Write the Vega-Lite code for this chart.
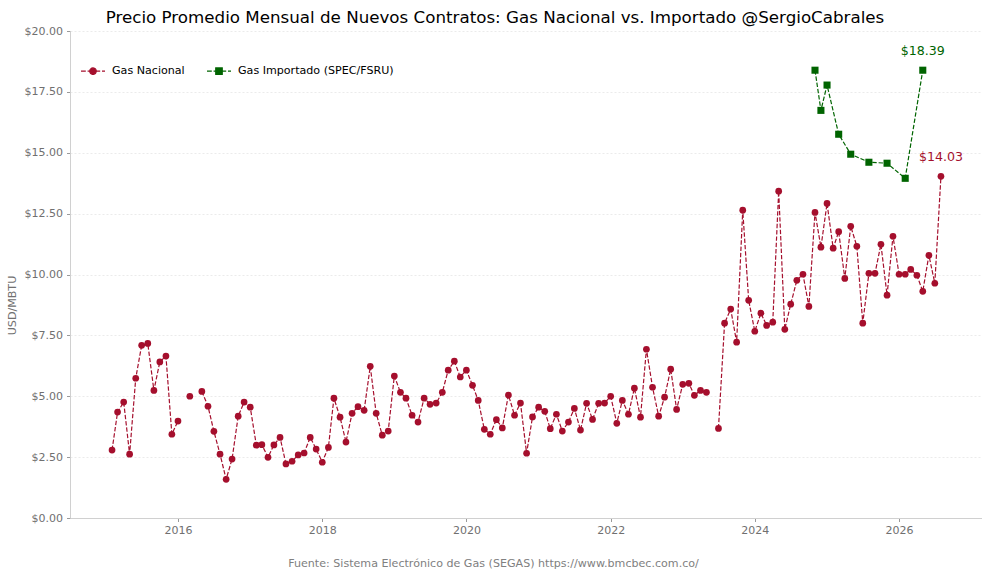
{
  "$schema": "https://vega.github.io/schema/vega-lite/v6.json",
  "width": 912,
  "height": 487,
  "autosize": {"type": "none"},
  "padding": {"left": 70, "top": 31, "right": 0, "bottom": 57},
  "background": "white",
  "title": {
    "text": "Precio Promedio Mensual de Nuevos Contratos: Gas Nacional vs. Importado @SergioCabrales",
    "anchor": "middle",
    "dx": -31,
    "dy": 6,
    "offset": 4,
    "fontSize": 16.7,
    "fontWeight": "normal",
    "color": "#000000"
  },
  "data": {
    "values": [
      {"fecha": "2015-02-01", "serie": "Gas Nacional", "precio": 2.79},
      {"fecha": "2015-03-01", "serie": "Gas Nacional", "precio": 4.35},
      {"fecha": "2015-04-01", "serie": "Gas Nacional", "precio": 4.76},
      {"fecha": "2015-05-01", "serie": "Gas Nacional", "precio": 2.62},
      {"fecha": "2015-06-01", "serie": "Gas Nacional", "precio": 5.74},
      {"fecha": "2015-07-01", "serie": "Gas Nacional", "precio": 7.09},
      {"fecha": "2015-08-01", "serie": "Gas Nacional", "precio": 7.17},
      {"fecha": "2015-09-01", "serie": "Gas Nacional", "precio": 5.24},
      {"fecha": "2015-10-01", "serie": "Gas Nacional", "precio": 6.41},
      {"fecha": "2015-11-01", "serie": "Gas Nacional", "precio": 6.65},
      {"fecha": "2015-12-01", "serie": "Gas Nacional", "precio": 3.44},
      {"fecha": "2016-01-01", "serie": "Gas Nacional", "precio": 3.98},
      {"fecha": "2016-02-01", "serie": "Gas Nacional", "precio": null},
      {"fecha": "2016-03-01", "serie": "Gas Nacional", "precio": 5.00},
      {"fecha": "2016-04-01", "serie": "Gas Nacional", "precio": null},
      {"fecha": "2016-05-01", "serie": "Gas Nacional", "precio": 5.20},
      {"fecha": "2016-06-01", "serie": "Gas Nacional", "precio": 4.59},
      {"fecha": "2016-07-01", "serie": "Gas Nacional", "precio": 3.56},
      {"fecha": "2016-08-01", "serie": "Gas Nacional", "precio": 2.62},
      {"fecha": "2016-09-01", "serie": "Gas Nacional", "precio": 1.59},
      {"fecha": "2016-10-01", "serie": "Gas Nacional", "precio": 2.42},
      {"fecha": "2016-11-01", "serie": "Gas Nacional", "precio": 4.18},
      {"fecha": "2016-12-01", "serie": "Gas Nacional", "precio": 4.76},
      {"fecha": "2017-01-01", "serie": "Gas Nacional", "precio": 4.55},
      {"fecha": "2017-02-01", "serie": "Gas Nacional", "precio": 2.99},
      {"fecha": "2017-03-01", "serie": "Gas Nacional", "precio": 3.01},
      {"fecha": "2017-04-01", "serie": "Gas Nacional", "precio": 2.49},
      {"fecha": "2017-05-01", "serie": "Gas Nacional", "precio": 3.00},
      {"fecha": "2017-06-01", "serie": "Gas Nacional", "precio": 3.31},
      {"fecha": "2017-07-01", "serie": "Gas Nacional", "precio": 2.22},
      {"fecha": "2017-08-01", "serie": "Gas Nacional", "precio": 2.33},
      {"fecha": "2017-09-01", "serie": "Gas Nacional", "precio": 2.59},
      {"fecha": "2017-10-01", "serie": "Gas Nacional", "precio": 2.67},
      {"fecha": "2017-11-01", "serie": "Gas Nacional", "precio": 3.31},
      {"fecha": "2017-12-01", "serie": "Gas Nacional", "precio": 2.83},
      {"fecha": "2018-01-01", "serie": "Gas Nacional", "precio": 2.29},
      {"fecha": "2018-02-01", "serie": "Gas Nacional", "precio": 2.90},
      {"fecha": "2018-03-01", "serie": "Gas Nacional", "precio": 4.92},
      {"fecha": "2018-04-01", "serie": "Gas Nacional", "precio": 4.14},
      {"fecha": "2018-05-01", "serie": "Gas Nacional", "precio": 3.12},
      {"fecha": "2018-06-01", "serie": "Gas Nacional", "precio": 4.30},
      {"fecha": "2018-07-01", "serie": "Gas Nacional", "precio": 4.57},
      {"fecha": "2018-08-01", "serie": "Gas Nacional", "precio": 4.42},
      {"fecha": "2018-09-01", "serie": "Gas Nacional", "precio": 6.23},
      {"fecha": "2018-10-01", "serie": "Gas Nacional", "precio": 4.30},
      {"fecha": "2018-11-01", "serie": "Gas Nacional", "precio": 3.40},
      {"fecha": "2018-12-01", "serie": "Gas Nacional", "precio": 3.57},
      {"fecha": "2019-01-01", "serie": "Gas Nacional", "precio": 5.83},
      {"fecha": "2019-02-01", "serie": "Gas Nacional", "precio": 5.16},
      {"fecha": "2019-03-01", "serie": "Gas Nacional", "precio": 4.92},
      {"fecha": "2019-04-01", "serie": "Gas Nacional", "precio": 4.22},
      {"fecha": "2019-05-01", "serie": "Gas Nacional", "precio": 3.94},
      {"fecha": "2019-06-01", "serie": "Gas Nacional", "precio": 4.92},
      {"fecha": "2019-07-01", "serie": "Gas Nacional", "precio": 4.67},
      {"fecha": "2019-08-01", "serie": "Gas Nacional", "precio": 4.72},
      {"fecha": "2019-09-01", "serie": "Gas Nacional", "precio": 5.16},
      {"fecha": "2019-10-01", "serie": "Gas Nacional", "precio": 6.07},
      {"fecha": "2019-11-01", "serie": "Gas Nacional", "precio": 6.44},
      {"fecha": "2019-12-01", "serie": "Gas Nacional", "precio": 5.79},
      {"fecha": "2020-01-01", "serie": "Gas Nacional", "precio": 6.07},
      {"fecha": "2020-02-01", "serie": "Gas Nacional", "precio": 5.45},
      {"fecha": "2020-03-01", "serie": "Gas Nacional", "precio": 4.83},
      {"fecha": "2020-04-01", "serie": "Gas Nacional", "precio": 3.64},
      {"fecha": "2020-05-01", "serie": "Gas Nacional", "precio": 3.44},
      {"fecha": "2020-06-01", "serie": "Gas Nacional", "precio": 4.04},
      {"fecha": "2020-07-01", "serie": "Gas Nacional", "precio": 3.70},
      {"fecha": "2020-08-01", "serie": "Gas Nacional", "precio": 5.05},
      {"fecha": "2020-09-01", "serie": "Gas Nacional", "precio": 4.22},
      {"fecha": "2020-10-01", "serie": "Gas Nacional", "precio": 4.72},
      {"fecha": "2020-11-01", "serie": "Gas Nacional", "precio": 2.66},
      {"fecha": "2020-12-01", "serie": "Gas Nacional", "precio": 4.15},
      {"fecha": "2021-01-01", "serie": "Gas Nacional", "precio": 4.55},
      {"fecha": "2021-02-01", "serie": "Gas Nacional", "precio": 4.38},
      {"fecha": "2021-03-01", "serie": "Gas Nacional", "precio": 3.67},
      {"fecha": "2021-04-01", "serie": "Gas Nacional", "precio": 4.26},
      {"fecha": "2021-05-01", "serie": "Gas Nacional", "precio": 3.57},
      {"fecha": "2021-06-01", "serie": "Gas Nacional", "precio": 3.94},
      {"fecha": "2021-07-01", "serie": "Gas Nacional", "precio": 4.50},
      {"fecha": "2021-08-01", "serie": "Gas Nacional", "precio": 3.61},
      {"fecha": "2021-09-01", "serie": "Gas Nacional", "precio": 4.71},
      {"fecha": "2021-10-01", "serie": "Gas Nacional", "precio": 4.05},
      {"fecha": "2021-11-01", "serie": "Gas Nacional", "precio": 4.71},
      {"fecha": "2021-12-01", "serie": "Gas Nacional", "precio": 4.72},
      {"fecha": "2022-01-01", "serie": "Gas Nacional", "precio": 5.00},
      {"fecha": "2022-02-01", "serie": "Gas Nacional", "precio": 3.89},
      {"fecha": "2022-03-01", "serie": "Gas Nacional", "precio": 4.83},
      {"fecha": "2022-04-01", "serie": "Gas Nacional", "precio": 4.26},
      {"fecha": "2022-05-01", "serie": "Gas Nacional", "precio": 5.33},
      {"fecha": "2022-06-01", "serie": "Gas Nacional", "precio": 4.14},
      {"fecha": "2022-07-01", "serie": "Gas Nacional", "precio": 6.93},
      {"fecha": "2022-08-01", "serie": "Gas Nacional", "precio": 5.37},
      {"fecha": "2022-09-01", "serie": "Gas Nacional", "precio": 4.18},
      {"fecha": "2022-10-01", "serie": "Gas Nacional", "precio": 4.96},
      {"fecha": "2022-11-01", "serie": "Gas Nacional", "precio": 6.11},
      {"fecha": "2022-12-01", "serie": "Gas Nacional", "precio": 4.46},
      {"fecha": "2023-01-01", "serie": "Gas Nacional", "precio": 5.49},
      {"fecha": "2023-02-01", "serie": "Gas Nacional", "precio": 5.53},
      {"fecha": "2023-03-01", "serie": "Gas Nacional", "precio": 5.04},
      {"fecha": "2023-04-01", "serie": "Gas Nacional", "precio": 5.24},
      {"fecha": "2023-05-01", "serie": "Gas Nacional", "precio": 5.16},
      {"fecha": "2023-06-01", "serie": "Gas Nacional", "precio": null},
      {"fecha": "2023-07-01", "serie": "Gas Nacional", "precio": 3.68},
      {"fecha": "2023-08-01", "serie": "Gas Nacional", "precio": 8.00},
      {"fecha": "2023-09-01", "serie": "Gas Nacional", "precio": 8.58},
      {"fecha": "2023-10-01", "serie": "Gas Nacional", "precio": 7.22},
      {"fecha": "2023-11-01", "serie": "Gas Nacional", "precio": 12.64},
      {"fecha": "2023-12-01", "serie": "Gas Nacional", "precio": 8.94},
      {"fecha": "2024-01-01", "serie": "Gas Nacional", "precio": 7.67},
      {"fecha": "2024-02-01", "serie": "Gas Nacional", "precio": 8.41},
      {"fecha": "2024-03-01", "serie": "Gas Nacional", "precio": 7.91},
      {"fecha": "2024-04-01", "serie": "Gas Nacional", "precio": 8.04},
      {"fecha": "2024-05-01", "serie": "Gas Nacional", "precio": 13.42},
      {"fecha": "2024-06-01", "serie": "Gas Nacional", "precio": 7.75},
      {"fecha": "2024-07-01", "serie": "Gas Nacional", "precio": 8.78},
      {"fecha": "2024-08-01", "serie": "Gas Nacional", "precio": 9.76},
      {"fecha": "2024-09-01", "serie": "Gas Nacional", "precio": 10.01},
      {"fecha": "2024-10-01", "serie": "Gas Nacional", "precio": 8.69},
      {"fecha": "2024-11-01", "serie": "Gas Nacional", "precio": 12.55},
      {"fecha": "2024-12-01", "serie": "Gas Nacional", "precio": 11.12},
      {"fecha": "2025-01-01", "serie": "Gas Nacional", "precio": 12.92},
      {"fecha": "2025-02-01", "serie": "Gas Nacional", "precio": 11.08},
      {"fecha": "2025-03-01", "serie": "Gas Nacional", "precio": 11.76},
      {"fecha": "2025-04-01", "serie": "Gas Nacional", "precio": 9.84},
      {"fecha": "2025-05-01", "serie": "Gas Nacional", "precio": 11.98},
      {"fecha": "2025-06-01", "serie": "Gas Nacional", "precio": 11.16},
      {"fecha": "2025-07-01", "serie": "Gas Nacional", "precio": 8.00},
      {"fecha": "2025-08-01", "serie": "Gas Nacional", "precio": 10.05},
      {"fecha": "2025-09-01", "serie": "Gas Nacional", "precio": 10.05},
      {"fecha": "2025-10-01", "serie": "Gas Nacional", "precio": 11.24},
      {"fecha": "2025-11-01", "serie": "Gas Nacional", "precio": 9.15},
      {"fecha": "2025-12-01", "serie": "Gas Nacional", "precio": 11.57},
      {"fecha": "2026-01-01", "serie": "Gas Nacional", "precio": 10.01},
      {"fecha": "2026-02-01", "serie": "Gas Nacional", "precio": 10.01},
      {"fecha": "2026-03-01", "serie": "Gas Nacional", "precio": 10.21},
      {"fecha": "2026-04-01", "serie": "Gas Nacional", "precio": 9.97},
      {"fecha": "2026-05-01", "serie": "Gas Nacional", "precio": 9.31},
      {"fecha": "2026-06-01", "serie": "Gas Nacional", "precio": 10.79},
      {"fecha": "2026-07-01", "serie": "Gas Nacional", "precio": 9.64},
      {"fecha": "2026-08-01", "serie": "Gas Nacional", "precio": 14.03},
      {"fecha": "2024-11-01", "serie": "Gas Importado (SPEC/FSRU)", "precio": 18.39},
      {"fecha": "2024-12-01", "serie": "Gas Importado (SPEC/FSRU)", "precio": 16.74},
      {"fecha": "2025-01-01", "serie": "Gas Importado (SPEC/FSRU)", "precio": 17.78},
      {"fecha": "2025-03-01", "serie": "Gas Importado (SPEC/FSRU)", "precio": 15.76},
      {"fecha": "2025-05-01", "serie": "Gas Importado (SPEC/FSRU)", "precio": 14.94},
      {"fecha": "2025-08-01", "serie": "Gas Importado (SPEC/FSRU)", "precio": 14.61},
      {"fecha": "2025-11-01", "serie": "Gas Importado (SPEC/FSRU)", "precio": 14.57},
      {"fecha": "2026-02-01", "serie": "Gas Importado (SPEC/FSRU)", "precio": 13.95},
      {"fecha": "2026-05-01", "serie": "Gas Importado (SPEC/FSRU)", "precio": 18.39}
    ]
  },
  "encoding": {
    "x": {
      "field": "fecha",
      "type": "temporal",
      "scale": {
        "domain": [
          {"year": 2014, "month": 7, "date": 3},
          {"year": 2027, "month": 2, "date": 25}
        ]
      },
      "axis": {
        "values": [
          {"year": 2016, "month": 1, "date": 1},
          {"year": 2018, "month": 1, "date": 1},
          {"year": 2020, "month": 1, "date": 1},
          {"year": 2022, "month": 1, "date": 1},
          {"year": 2024, "month": 1, "date": 1},
          {"year": 2026, "month": 1, "date": 1}
        ],
        "format": "%Y",
        "grid": false,
        "labelPadding": 3,
        "title": "Fuente: Sistema Electrónico de Gas (SEGAS) https://www.bmcbec.com.co/",
        "titleX": 423,
        "titleY": 45,
        "titleBaseline": "middle",
        "titleFontSize": 11.1,
        "titleColor": "#808080"
      }
    },
    "y": {
      "field": "precio",
      "type": "quantitative",
      "scale": {"domain": [0, 20], "nice": false},
      "axis": {
        "values": [0, 2.5, 5, 7.5, 10, 12.5, 15, 17.5, 20],
        "format": "$.2f",
        "title": "USD/MBTU",
        "titleX": -58,
        "titleY": 274,
        "titleAngle": 270,
        "titleAlign": "center",
        "titleBaseline": "middle",
        "titleFontSize": 11.1,
        "titleColor": "#707070"
      }
    },
    "color": {
      "field": "serie",
      "type": "nominal",
      "scale": {
        "domain": ["Gas Nacional", "Gas Importado (SPEC/FSRU)"],
        "range": ["#A50F2D", "#006400"]
      },
      "legend": {
        "title": null,
        "orient": "none",
        "legendX": 10,
        "legendY": 27,
        "direction": "horizontal",
        "padding": 0,
        "columnPadding": 19,
        "labelOffset": 6,
        "labelFontSize": 11.1,
        "labelColor": "#000000",
        "symbolSize": 576,
        "symbolStrokeWidth": 1.2,
        "encode": {
          "symbols": {
            "update": {
              "shape": {"signal": "datum.value == 'Gas Nacional' ? 'M-1,0H-0.6M-0.45,0H-0.3M0.3,0H0.6M0.75,0H1M-0.27,0A0.27,0.27 0 1,0 0.27,0A0.27,0.27 0 1,0 -0.27,0Z' : 'M-1,0H-0.6M-0.45,0H-0.3M0.3,0H0.6M0.75,0H1M-0.27,-0.27H0.27V0.27H-0.27Z'"},
              "fill": {"signal": "datum.value == 'Gas Nacional' ? '#A50F2D' : '#006400'"},
              "stroke": {"signal": "datum.value == 'Gas Nacional' ? '#A50F2D' : '#006400'"},
              "strokeDash": {"value": [1, 0]},
              "strokeWidth": {"value": 1.2},
              "size": {"value": 576},
              "opacity": {"value": 1}
            }
          }
        }
      }
    }
  },
  "layer": [
    {
      "mark": {
        "type": "line",
        "strokeWidth": 1.2,
        "strokeDash": [4.4, 1.9],
        "invalid": "break-paths-filter-domains"
      }
    },
    {
      "transform": [
        {"filter": "isValid(datum.precio)"},
        {"filter": "datum.serie == 'Gas Nacional'"}
      ],
      "mark": {"type": "point", "shape": "circle", "size": 45, "filled": true, "opacity": 1}
    },
    {
      "transform": [
        {"filter": "isValid(datum.precio)"},
        {"filter": "datum.serie != 'Gas Nacional'"}
      ],
      "mark": {"type": "point", "shape": "square", "size": 50, "filled": true, "opacity": 1}
    },
    {
      "transform": [
        {"filter": "isValid(datum.precio)"},
        {
          "window": [{"op": "row_number", "as": "orden"}],
          "sort": [{"field": "fecha", "order": "descending"}],
          "groupby": ["serie"]
        },
        {"filter": "datum.orden == 1"}
      ],
      "mark": {"type": "text", "dy": -19, "fontSize": 12.6, "align": "center", "baseline": "middle"},
      "encoding": {
        "text": {"field": "precio", "type": "quantitative", "format": "$.2f"}
      }
    }
  ],
  "config": {
    "font": "DejaVu Sans",
    "view": {"stroke": null},
    "axis": {
      "labelFont": "DejaVu Sans",
      "labelFontSize": 11,
      "labelColor": "#707070",
      "titleFont": "DejaVu Sans",
      "titleFontWeight": "normal",
      "domainColor": "#d0d0d0",
      "domainWidth": 1,
      "tickColor": "#808080",
      "tickSize": 3.5,
      "tickWidth": 0.8,
      "gridColor": "#e6e6e6",
      "gridDash": [2, 2],
      "gridWidth": 0.8
    },
    "axisY": {"labelPadding": 4},
    "legend": {"labelFont": "DejaVu Sans"},
    "title": {"font": "DejaVu Sans"}
  }
}
